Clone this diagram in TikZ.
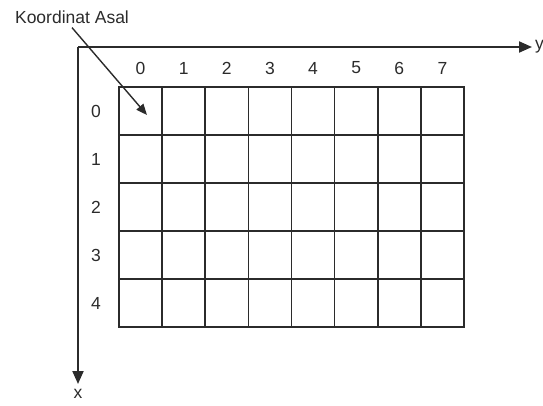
\documentclass[tikz,border=0pt]{standalone}
\usepackage{fontspec}
\setmainfont{Liberation Sans}
\definecolor{linec}{HTML}{2B2B2B}
\usetikzlibrary{arrows.meta,positioning}
\tikzset{
  cell/.style={draw=linec,line width=1.7pt,minimum width=43.125pt,minimum height=48pt,inner sep=0pt,outer sep=0pt},
  axis/.style={draw=linec,line width=2pt,-{Triangle[length=13pt,width=11pt]}},
  ptr/.style={draw=linec,line width=1.4pt,-{Triangle[length=11pt,width=9pt]}},
  lbl/.style={font=\fontsize{17.5}{20}\selectfont,text=linec,inner sep=0pt},
}
\begin{document}
\begin{tikzpicture}[x=1pt,y=-1pt]
  \useasboundingbox (0,0) rectangle (543,405);
  % grid
  \foreach \r in {0,...,4}
    \foreach \c in {0,...,7}
      \node[cell] (c-\r-\c) at ({119+43.125*(\c+0.5)},{87+48*(\r+0.5)}) {};
  \foreach \c in {0,...,7} \node[lbl] (col-\c) at ([yshift=19pt]c-0-\c.north) {\c};
  \foreach \r in {0,...,4} \node[lbl] (row-\r) at ([xshift=-23pt]c-\r-0.west) {\r};
  % axes
  \coordinate (O) at (78,47);
  \coordinate (Y) at (532,47);
  \coordinate (X) at (78,384);
  \draw[axis] (O) -- (Y);
  \draw[axis] (O) -- (X);
  \node[lbl,anchor=west] (ylab) at ([xshift=3pt]Y) {y};
  \node[lbl,anchor=north] (xlab) at ([yshift=-5pt]X) {x};
  % origin
  \node[lbl] (kA) at (72,17) {Koordinat Asal};
  \coordinate (kA-tip) at (147,115);
  \draw[ptr] ([yshift=-4pt]kA.south) -- (kA-tip);
\end{tikzpicture}
\end{document}
